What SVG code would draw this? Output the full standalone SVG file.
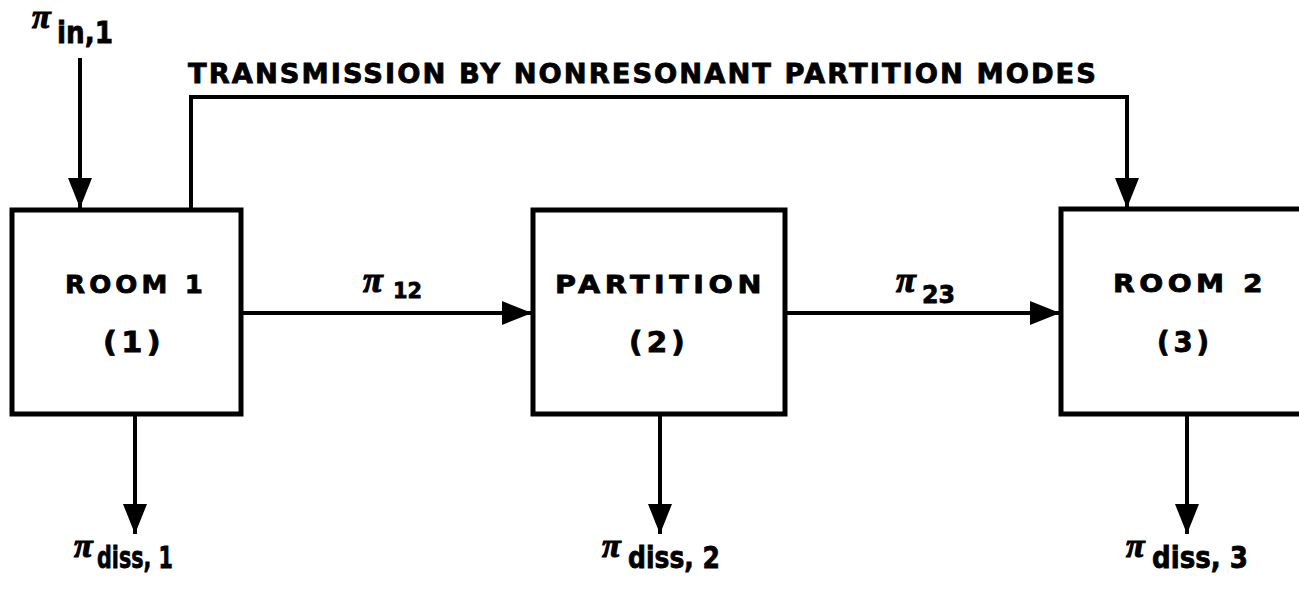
<svg xmlns="http://www.w3.org/2000/svg" width="1299" height="592" viewBox="0 0 1299 592">
<style>
.box{fill:#fff;stroke:#000;stroke-width:5}
.ln{fill:none;stroke:#000;stroke-width:4}
.t{font-family:"DejaVu Sans","Liberation Sans",sans-serif;font-weight:bold;fill:#000;stroke:#000;stroke-width:0.8}
.pi{font-family:"Liberation Serif","Times New Roman",serif;font-style:italic;font-weight:bold;fill:#000;stroke:#000;stroke-width:1.2}
</style>
<defs>
<marker id="ah" viewBox="0 0 30 24" refX="30" refY="12" markerWidth="30" markerHeight="24" markerUnits="userSpaceOnUse" orient="auto">
<path d="M0,0 L30,12 L0,24 Z" fill="#000"/>
</marker>
</defs>
<g id="connectors">
<line class="ln" x1="80" y1="58" x2="80" y2="208" marker-end="url(#ah)"/>
<polyline class="ln" points="191,210 191,97 1127,97 1127,208" marker-end="url(#ah)"/>
<line class="ln" x1="242" y1="313" x2="532" y2="313" marker-end="url(#ah)"/>
<line class="ln" x1="785" y1="313" x2="1060" y2="313" marker-end="url(#ah)"/>
<line class="ln" x1="135" y1="414" x2="135" y2="534" marker-end="url(#ah)"/>
<line class="ln" x1="660" y1="414" x2="660" y2="534" marker-end="url(#ah)"/>
<line class="ln" x1="1187" y1="414" x2="1187" y2="534" marker-end="url(#ah)"/>
<text class="t" x="188" y="83" font-size="27" textLength="910" lengthAdjust="spacingAndGlyphs" letter-spacing="2">TRANSMISSION BY NONRESONANT PARTITION MODES</text>
<text class="pi" x="363" y="292" font-size="36">π</text>
<text class="t" x="393" y="298" font-size="22" textLength="29" lengthAdjust="spacingAndGlyphs">12</text>
<text class="pi" x="896" y="292" font-size="36">π</text>
<text class="t" x="922" y="303" font-size="24" textLength="33" lengthAdjust="spacingAndGlyphs">23</text>
</g>
<g id="in1">
<text class="pi" x="32" y="28" font-size="34">π</text>
<text class="t" x="57" y="43" font-size="30" textLength="56" lengthAdjust="spacingAndGlyphs">in,1</text>
</g>
<g id="room1">
<rect class="box" x="12" y="210" width="229" height="204"/>
<text class="t" x="65" y="293" font-size="25" textLength="142" lengthAdjust="spacingAndGlyphs" letter-spacing="4">ROOM 1</text>
<text class="t" x="103" y="352" font-size="28" textLength="62" lengthAdjust="spacingAndGlyphs" letter-spacing="4">(1)</text>
</g>
<g id="partition">
<rect class="box" x="533" y="210" width="252" height="204"/>
<text class="t" x="555" y="293" font-size="25" textLength="211" lengthAdjust="spacingAndGlyphs" letter-spacing="4">PARTITION</text>
<text class="t" x="629" y="352" font-size="28" textLength="60" lengthAdjust="spacingAndGlyphs" letter-spacing="4">(2)</text>
</g>
<g id="room2">
<rect class="box" x="1061" y="209" width="260" height="205"/>
<text class="t" x="1113" y="292" font-size="25" textLength="154" lengthAdjust="spacingAndGlyphs" letter-spacing="4">ROOM 2</text>
<text class="t" x="1157" y="352" font-size="28" textLength="56" lengthAdjust="spacingAndGlyphs" letter-spacing="4">(3)</text>
</g>
<g id="diss1">
<text class="pi" x="74" y="557" font-size="34">π</text>
<text class="t" x="97" y="568" font-size="30" textLength="76" lengthAdjust="spacingAndGlyphs">diss, 1</text>
</g>
<g id="diss2">
<text class="pi" x="602" y="557" font-size="34">π</text>
<text class="t" x="628" y="568" font-size="30" textLength="92" lengthAdjust="spacingAndGlyphs">diss, 2</text>
</g>
<g id="diss3">
<text class="pi" x="1126" y="557" font-size="34">π</text>
<text class="t" x="1152" y="568" font-size="30" textLength="96" lengthAdjust="spacingAndGlyphs">diss, 3</text>
</g>
</svg>
